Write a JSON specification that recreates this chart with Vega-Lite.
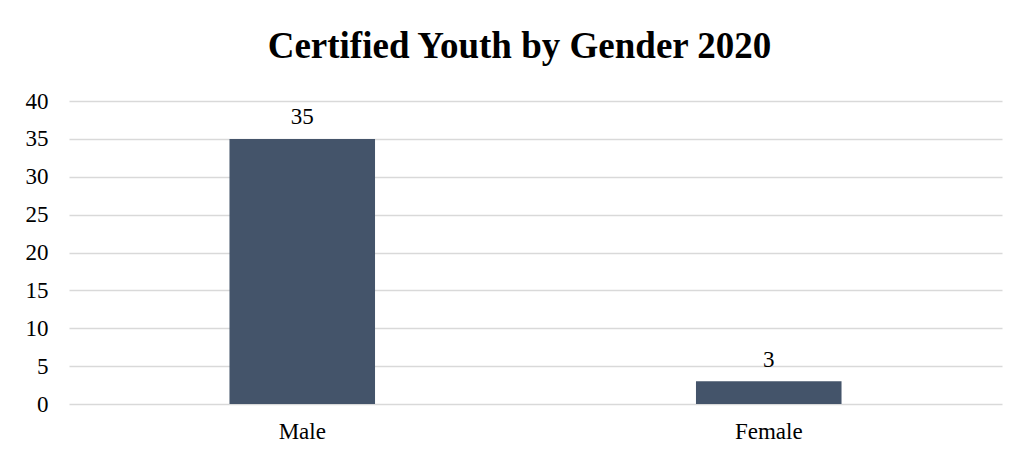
{
  "$schema": "https://vega.github.io/schema/vega-lite/v6.json",
  "autosize": "none",
  "width": 933,
  "height": 303,
  "padding": {"left": 69, "top": 101, "right": 17, "bottom": 56},
  "background": "white",
  "title": {
    "text": "Certified Youth by Gender 2020",
    "font": "Liberation Serif",
    "fontSize": 37,
    "fontWeight": "bold",
    "color": "black",
    "anchor": "middle",
    "baseline": "alphabetic",
    "dx": -16,
    "offset": -5
  },
  "data": {
    "values": [
      {"gender": "Male", "count": 35},
      {"gender": "Female", "count": 3}
    ]
  },
  "encoding": {
    "x": {
      "field": "gender",
      "type": "nominal",
      "sort": null,
      "scale": {"paddingInner": 0.688, "paddingOuter": 0.344},
      "axis": {
        "title": null,
        "domain": false,
        "ticks": false,
        "grid": false,
        "labelAngle": 0,
        "labelFont": "Liberation Serif",
        "labelFontSize": 23,
        "labelColor": "black",
        "labelPadding": 16
      }
    },
    "y": {
      "field": "count",
      "type": "quantitative",
      "scale": {"domain": [0, 40], "nice": false},
      "axis": {
        "title": null,
        "values": [0, 5, 10, 15, 20, 25, 30, 35, 40],
        "domain": false,
        "ticks": false,
        "grid": true,
        "gridColor": "#d9d9d9",
        "gridWidth": 1.5,
        "labelFont": "Liberation Serif",
        "labelFontSize": 23,
        "labelColor": "black",
        "labelPadding": 21
      }
    }
  },
  "layer": [
    {"mark": {"type": "bar", "color": "#44546a"}},
    {
      "mark": {
        "type": "text",
        "dy": -14.5,
        "baseline": "alphabetic",
        "font": "Liberation Serif",
        "fontSize": 23,
        "color": "black"
      },
      "encoding": {"text": {"field": "count", "type": "quantitative"}}
    }
  ],
  "config": {"view": {"stroke": null}}
}
